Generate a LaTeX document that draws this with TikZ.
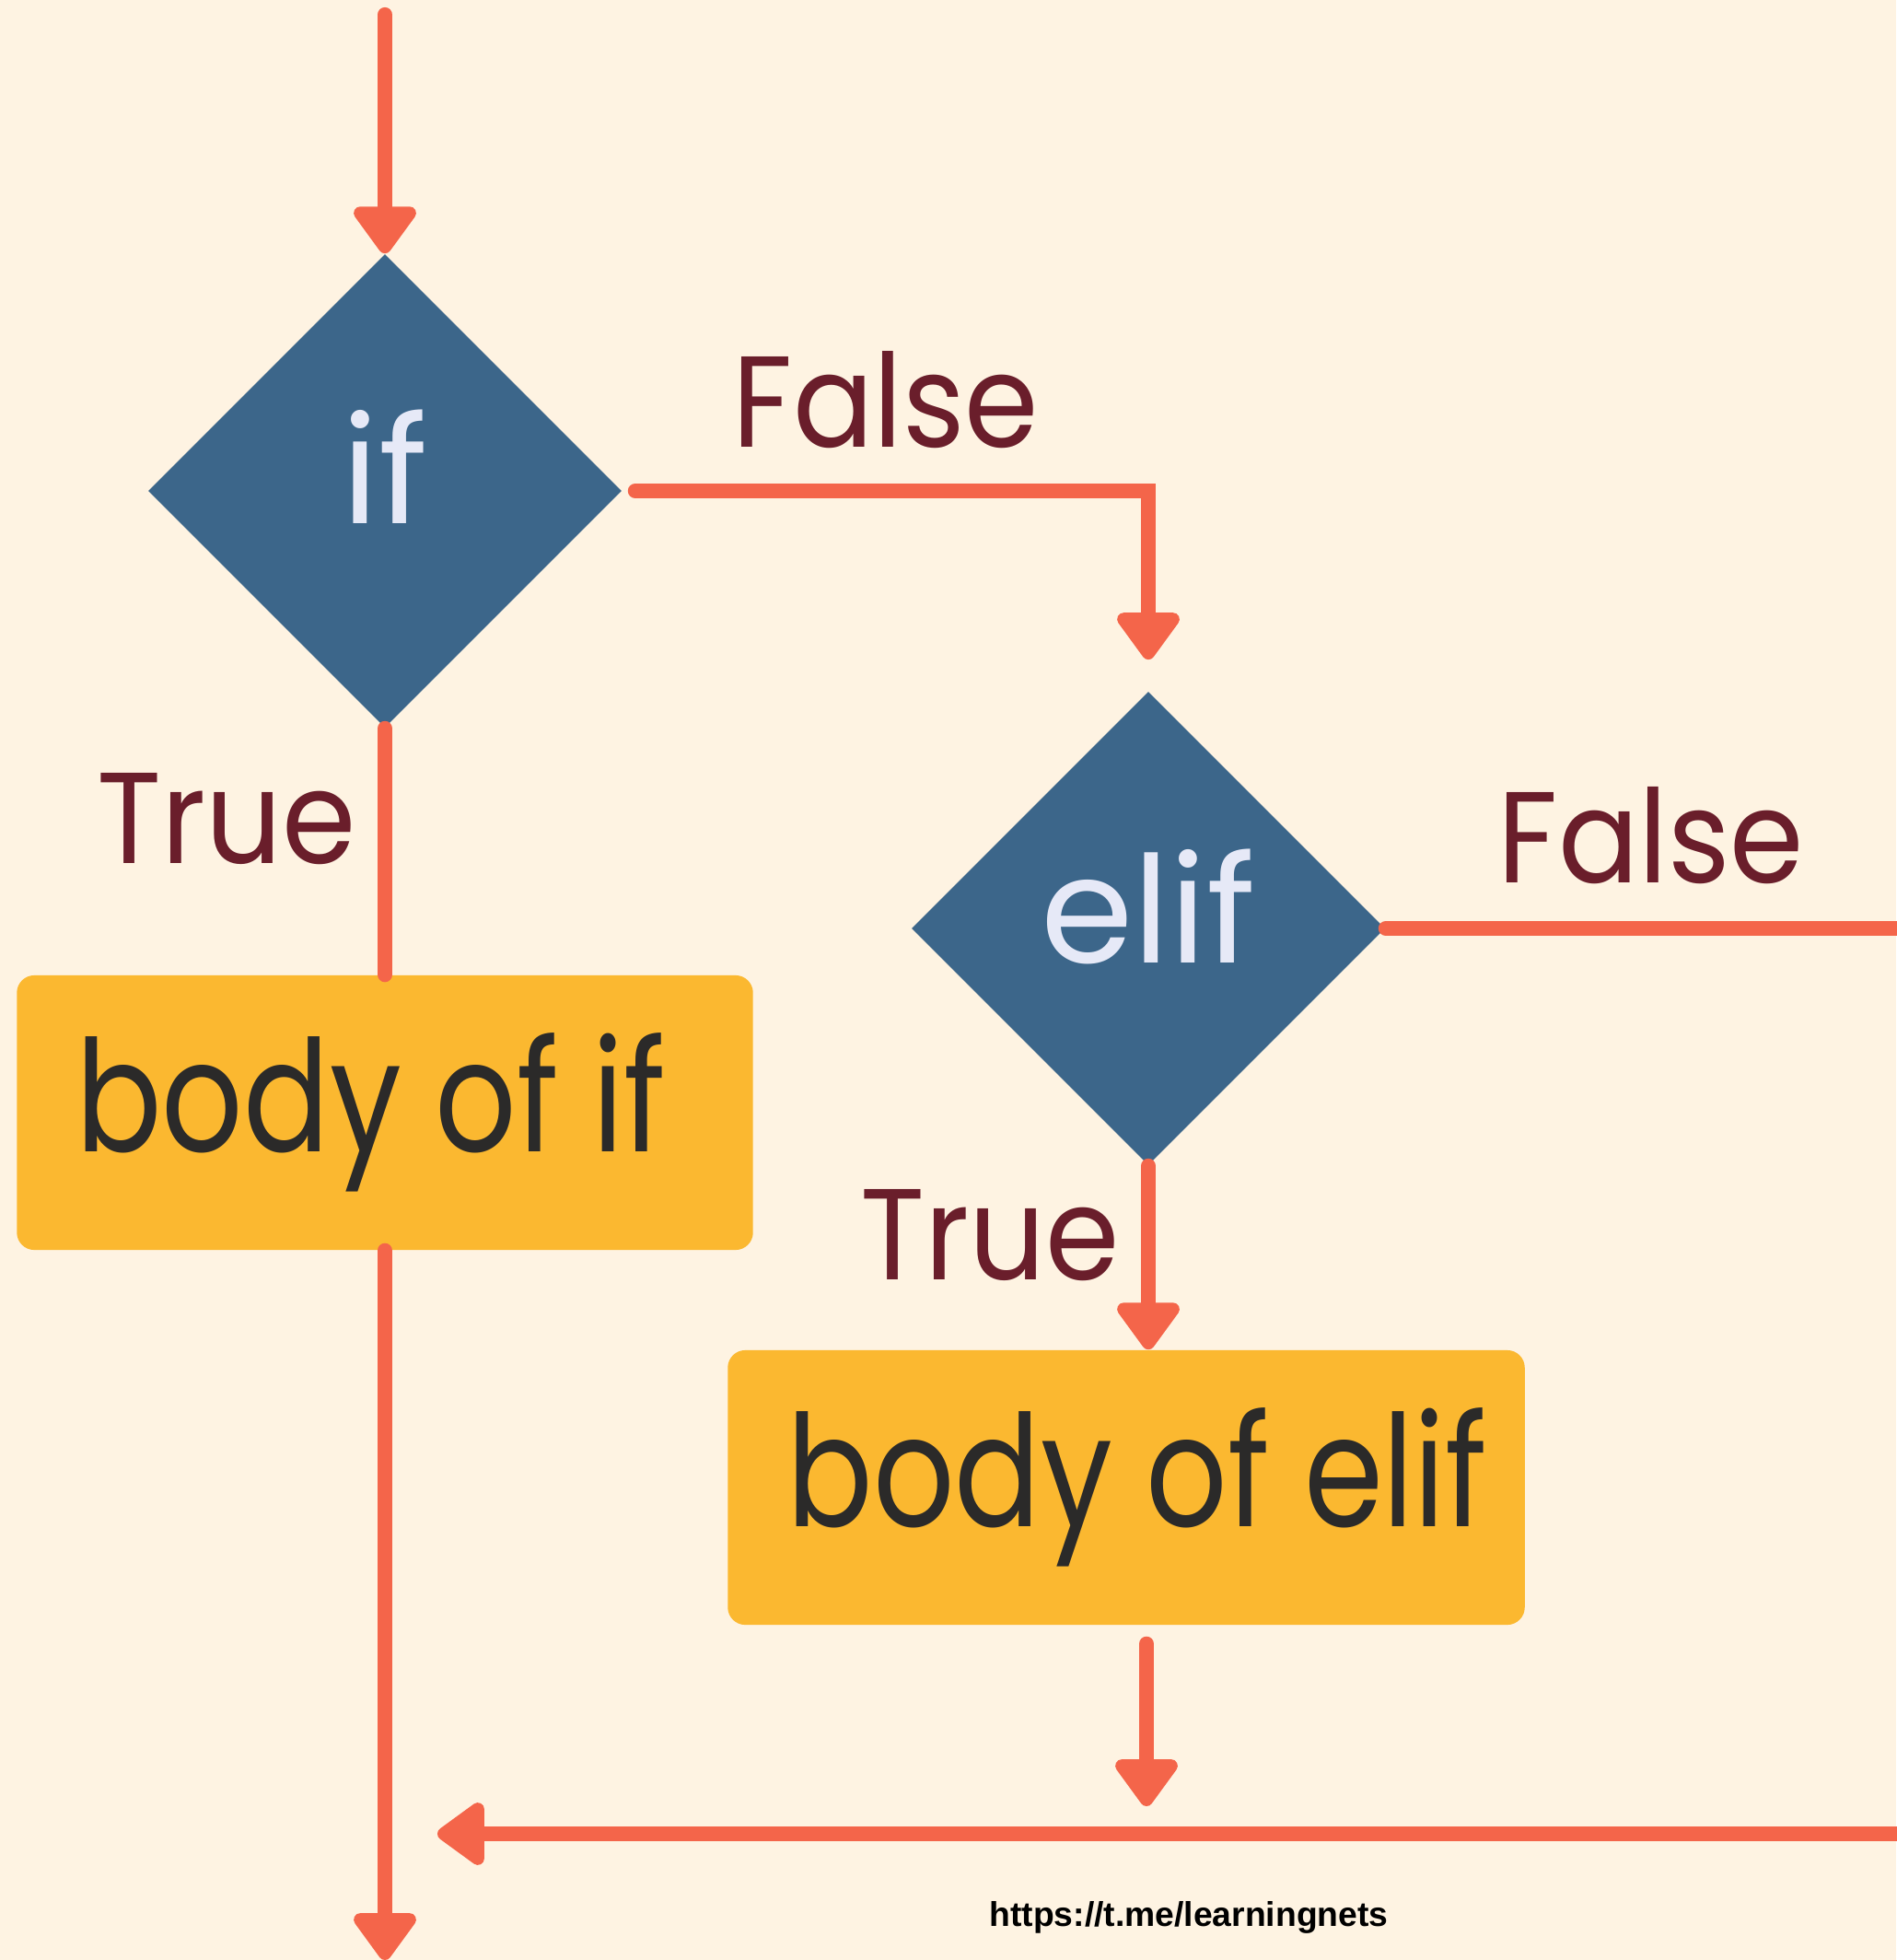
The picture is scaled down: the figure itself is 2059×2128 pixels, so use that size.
\documentclass[tikz,border=0pt]{standalone}
\usepackage{fontspec}
\setmainfont{Poppins}
\newfontfamily\bodyfont[FakeStretch=0.82]{Poppins}
\newfontfamily\branchfont[FakeStretch=0.92]{Poppins}
\newfontfamily\urlfont{Liberation Sans}
\usetikzlibrary{shapes.geometric,arrows.meta}

\definecolor{paper}{HTML}{FEF3E2}
\definecolor{flowline}{HTML}{F4654A}
\definecolor{decblue}{HTML}{3C668A}
\definecolor{decfont}{HTML}{E6E9F7}
\definecolor{boxyellow}{HTML}{FBB830}
\definecolor{bodyfont}{HTML}{2B2A29}
\definecolor{branchcol}{HTML}{6A1E2B}

\tikzset{
  flow/.style={draw=flowline, line width=4.6pt, line cap=round,
    -{Triangle[width=22pt,length=16pt,round]}},
  decision/.style={diamond, fill=decblue, minimum width=5.14cm,
    minimum height=5.14cm, inner sep=0pt, text=decfont,
    font=\fontsize{46}{50}\selectfont},
  bodybox/.style={rectangle, rounded corners=0.19cm, fill=boxyellow,
    minimum width=7.99cm, minimum height=2.98cm, text=bodyfont,
    font=\bodyfont\fontsize{48}{56}\selectfont},
  branch/.style={text=branchcol, font=\branchfont\fontsize{40}{46}\selectfont}
}

\begin{document}
\begin{tikzpicture}[x=0.01cm, y=-0.01cm]
  \fill[paper] (0,0) rectangle (2059,2128);
  \useasboundingbox (0,0) rectangle (2059,2128);

  % decisions and bodies
  \node[decision] (if) at (418,533) {\raisebox{15pt}{if}};
  \node[decision] (elif) at (1247,1008) {\raisebox{14pt}{elif}};
  \node[bodybox] (bodyif) at (418,1208) {body of if\kern0.3cm};
  \node[bodybox, minimum width=8.65cm] (bodyelif) at (1223,1615) {\kern0.24cm body of elif};

  \coordinate (start) at (418,16);
  \coordinate (end) at (418,2128);
  \coordinate (out) at (2059,1008);
  \coordinate (back) at (2059,1991);
  \coordinate (merge) at (475,1991);
  \coordinate (drop) at (1245,1961);

  % connectors
  \draw[flow] (start) -- (if.north);
  \draw[flow, shorten <=0.14cm, shorten >=0.34cm] (if.east) -| (elif.north);
  \draw[flow, -] (elif.east) -- (out);
  \draw[flow] (elif.south) -- (elif.south |- bodyelif.north);
  \draw[flow, -] (if.south) -- (bodyif.north);
  \draw[flow] (bodyif.south) -- (end);
  \draw[flow, shorten <=0.2cm] (drop |- bodyelif.south) -- (drop);
  \draw[flow] (back) -- (merge);

  % branch labels
  \node[branch] (f1) at (962,434) {False};
  \node[branch] (f2) at (1793,907) {False};
  \node[branch] (t1) at (246,889) {True};
  \node[branch] (t2) at (1075,1341) {True};

  \node[font=\urlfont\bfseries\fontsize{10.6}{12}\selectfont] (url) at (1291,2082) {https://t.me/learningnets};
\end{tikzpicture}
\end{document}
